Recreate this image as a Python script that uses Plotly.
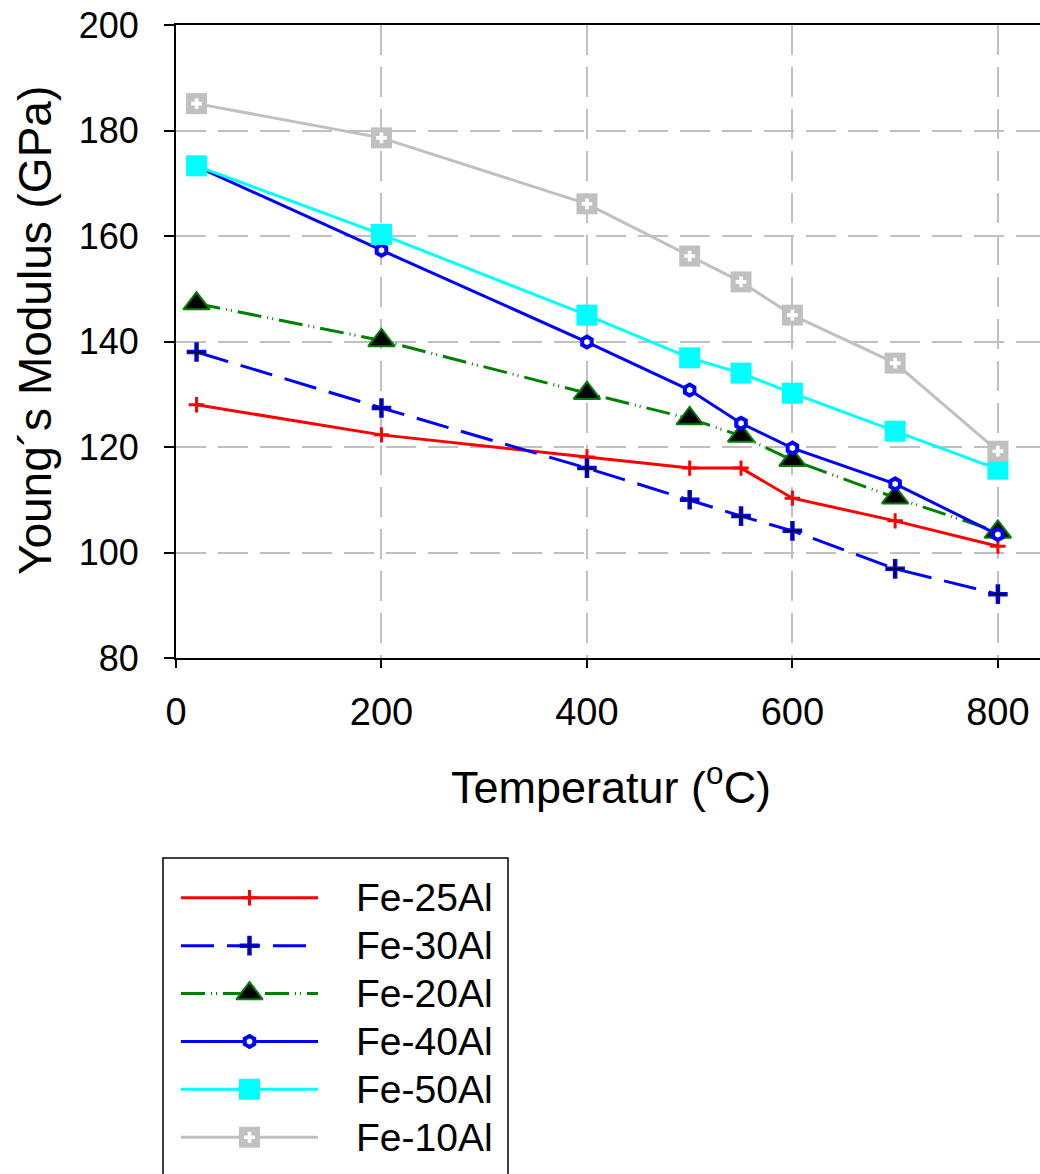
import plotly.graph_objects as go

# ---------------- data ----------------
temperature = [20, 200, 400, 500, 550, 600, 700, 800]
series_names = ["Fe-25Al", "Fe-30Al", "Fe-20Al", "Fe-40Al", "Fe-50Al", "Fe-10Al"]
fe25al = [128.0, 122.3, 118.1, 116.0, 116.0, 110.3, 106.0, 101.2]
fe30al = [138.0, 127.4, 116.0, 110.0, 106.9, 104.1, 96.9, 92.1]
fe20al = [147.2, 140.2, 130.2, 125.4, 122.1, 117.5, 110.4, 103.9]
fe40al = [173.2, 157.3, 139.9, 130.8, 124.5, 119.8, 113.0, 103.4]
fe50al = [173.3, 160.3, 145.0, 136.9, 134.0, 130.2, 123.0, 115.8]
fe10al = [185.1, 178.6, 166.1, 156.2, 151.3, 145.0, 135.9, 119.2]
x_ticks = [0, 200, 400, 600, 800]
y_ticks = [80, 100, 120, 140, 160, 180, 200]

W, H = 1040, 1174
FONT = "Arial, Liberation Sans, sans-serif"

styles = {
    "Fe-25Al": dict(color="#ff0000", width=3, dash="solid",
                    marker=dict(symbol="cross-thin", size=11, color="#ff0000",
                                line=dict(color="#ff0000", width=3)),
                    overlay=None),
    "Fe-30Al": dict(color="#0000ff", width=3, dash="33px,13px",
                    marker=dict(symbol="cross-thin", size=14, color="#0000ff",
                                line=dict(color="#0000ff", width=4.5)),
                    overlay=dict(symbol="cross-thin", size=12, color="#000000",
                                 line=dict(color="#000000", width=1.2))),
    "Fe-20Al": dict(color="#008000", width=3, dash="24px,6px,1px,4px,1px,6px",
                    marker=dict(symbol="triangle-up", size=23, color="#000000",
                                line=dict(color="#008000", width=2)),
                    overlay=None),
    "Fe-40Al": dict(color="#0000ff", width=3, dash="solid",
                    marker=dict(symbol="hexagon", size=11, color="#ffffff",
                                line=dict(color="#0000ff", width=4)),
                    overlay=None),
    "Fe-50Al": dict(color="#00ffff", width=3, dash="solid",
                    marker=dict(symbol="square", size=21, color="#00ffff",
                                line=dict(color="#00ffff", width=0)),
                    overlay=None),
    "Fe-10Al": dict(color="#c0c0c0", width=3, dash="solid",
                    marker=dict(symbol="square", size=21, color="#c0c0c0",
                                line=dict(color="#c0c0c0", width=0)),
                    overlay=dict(symbol="cross", size=9, color="#ffffff",
                                 line=dict(color="#ffffff", width=0))),
}
values = {"Fe-25Al": fe25al, "Fe-30Al": fe30al, "Fe-20Al": fe20al,
          "Fe-40Al": fe40al, "Fe-50Al": fe50al, "Fe-10Al": fe10al}

fig = go.Figure()

for name in series_names:
    st = styles[name]
    fig.add_trace(go.Scatter(
        x=temperature, y=values[name], mode="lines+markers", name=name,
        line=dict(color=st["color"], width=st["width"], dash=st["dash"]),
        marker=st["marker"], showlegend=False, xaxis="x", yaxis="y"))
    if st["overlay"]:
        fig.add_trace(go.Scatter(
            x=temperature, y=values[name], mode="markers",
            marker=st["overlay"], showlegend=False, hoverinfo="skip",
            xaxis="x", yaxis="y"))

# custom legend (drawn on helper axes)
for i, name in enumerate(series_names):
    st = styles[name]
    fig.add_trace(go.Scatter(
        x=[0, 1], y=[i, i], mode="lines",
        line=dict(color=st["color"], width=st["width"], dash=st["dash"]),
        showlegend=False, hoverinfo="skip", xaxis="x2", yaxis="y2"))
    fig.add_trace(go.Scatter(
        x=[0.5], y=[i], mode="markers", marker=st["marker"],
        showlegend=False, hoverinfo="skip", xaxis="x2", yaxis="y2"))
    if st["overlay"]:
        fig.add_trace(go.Scatter(
            x=[0.5], y=[i], mode="markers", marker=st["overlay"],
            showlegend=False, hoverinfo="skip", xaxis="x2", yaxis="y2"))

def px_x(p):
    return p / W

def px_y(p):
    return 1 - p / H

annotations = []
for i, name in enumerate(series_names):
    annotations.append(dict(
        text=name, x=px_x(354), xref="paper", xanchor="left",
        y=i, yref="y2", yanchor="middle", showarrow=False,
        font=dict(family=FONT, size=39, color="#000000")))

annotations.append(dict(
    text="Temperatur (<sup>o</sup>C)", x=px_x(611), y=px_y(784),
    xref="paper", yref="paper", xanchor="center", yanchor="middle",
    showarrow=False, font=dict(family=FONT, size=45, color="#000000")))
annotations.append(dict(
    text="Young´s Modulus (GPa)", x=px_x(35), y=px_y(331),
    xref="paper", yref="paper", xanchor="center", yanchor="middle",
    textangle=-90, showarrow=False,
    font=dict(family=FONT, size=46, color="#000000")))

grid = dict(gridcolor="#c0c0c0", gridwidth=2, griddash="30px,12px")

fig.update_layout(
    width=W, height=H, margin=dict(l=0, r=0, t=0, b=0),
    paper_bgcolor="#ffffff", plot_bgcolor="#ffffff",
    font=dict(family=FONT, color="#000000"),
    showlegend=False,
    xaxis=dict(domain=[px_x(176), 1], range=[0, 841], tickvals=x_ticks,
               showline=True, linecolor="#000000", linewidth=2, mirror=True,
               ticks="outside", ticklen=8, tickwidth=2, tickcolor="#000000",
               tickfont=dict(family=FONT, size=38), ticklabelstandoff=11,
               showgrid=True, zeroline=False, automargin=False,
               anchor="y", **grid),
    yaxis=dict(domain=[px_y(658), px_y(25)], range=[80, 200], tickvals=y_ticks,
               showline=True, linecolor="#000000", linewidth=2,
               ticks="outside", ticklen=10, tickwidth=2, tickcolor="#000000",
               tickfont=dict(family=FONT, size=36), ticklabelstandoff=18,
               showgrid=True, zeroline=False, automargin=False,
               anchor="x", **grid),
    xaxis2=dict(domain=[px_x(181), px_x(318)], range=[0, 1], visible=False,
                anchor="y2", fixedrange=True),
    yaxis2=dict(domain=[px_y(1161.2), px_y(873.8)], range=[5.5, -0.5],
                visible=False, anchor="x2", fixedrange=True),
    annotations=annotations,
    shapes=[dict(type="rect", xref="paper", yref="paper",
                 x0=px_x(163), x1=px_x(508), y0=px_y(1185), y1=px_y(858),
                 line=dict(color="#000000", width=1.5), fillcolor="rgba(0,0,0,0)",
                 layer="below")],
)

fig.write_html("out.html")
